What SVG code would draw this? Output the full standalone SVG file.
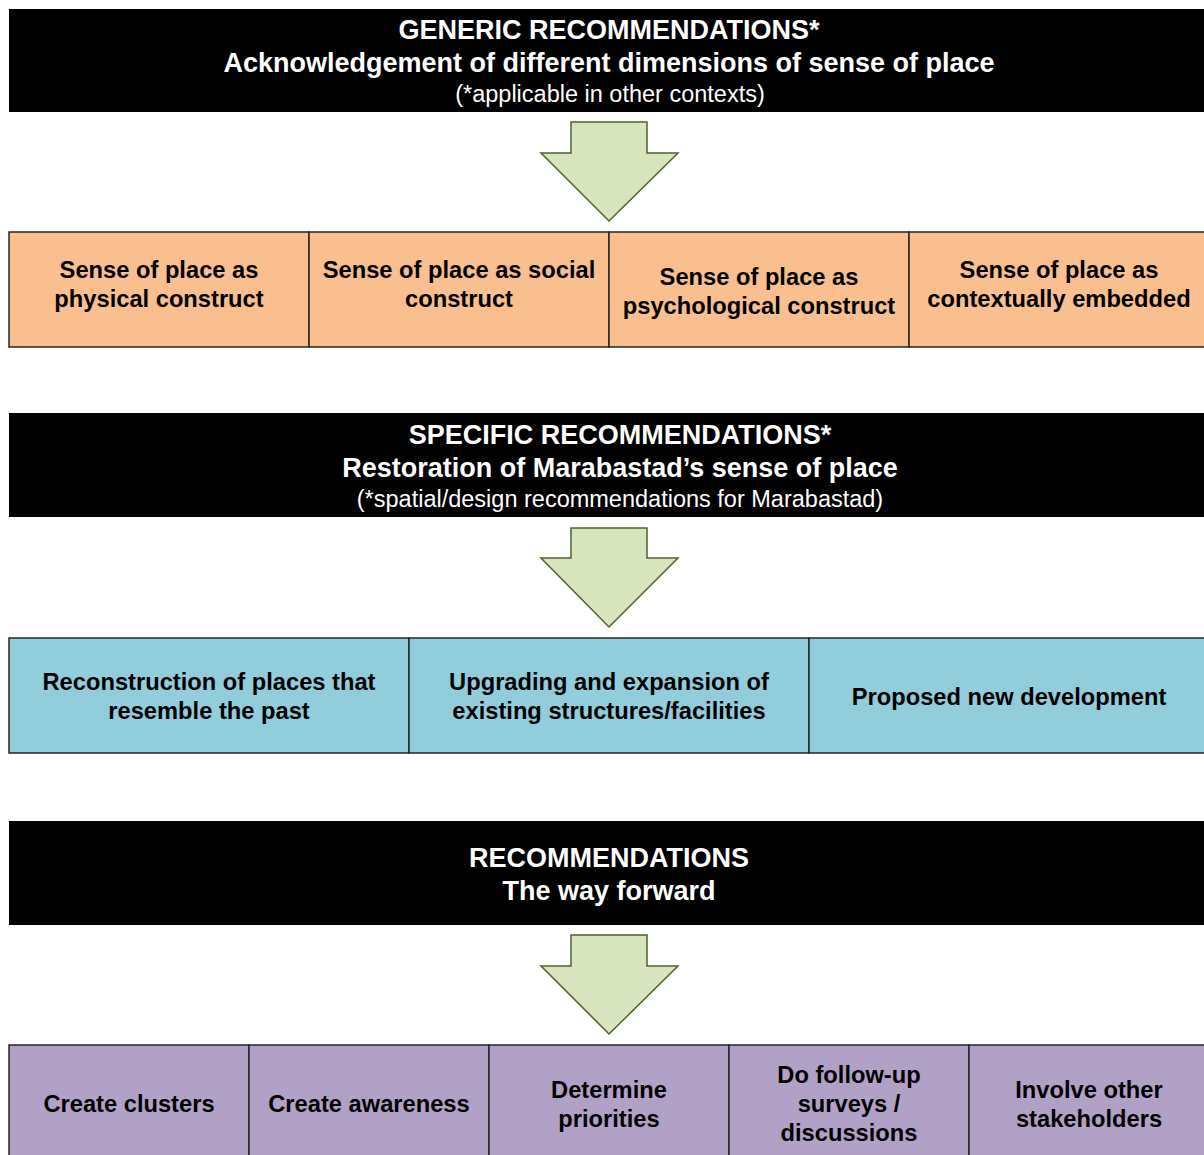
<svg xmlns="http://www.w3.org/2000/svg" width="1204" height="1155" viewBox="0 0 1204 1155">
  <defs>
    <style>
      .band { fill: #000000; }
      .hd { font-family: "Liberation Sans", Arial, sans-serif; fill: #ffffff; text-anchor: middle; }
      .hb { font-weight: bold; font-size: 27px; }
      .hs { font-size: 23.5px; }
      .cell { stroke: #262626; stroke-width: 1.5; }
      .orange { fill: #F9BF8F; }
      .blue { fill: #92CDDC; }
      .purple { fill: #B2A1C7; }
      .lbl { font-family: "Liberation Sans", Arial, sans-serif; font-weight: bold; font-size: 23.7px; fill: #000000; text-anchor: middle; }
      .arrow { fill: #D7E4BD; stroke: #4F6228; stroke-width: 1.5; stroke-linejoin: miter; }
    </style>
  </defs>
  <rect width="1204" height="1155" fill="#ffffff"/>

  <!-- Header: generic recommendations -->
  <g id="header-generic">
    <rect class="band" x="9" y="9" width="1200" height="103"/>
    <text class="hd hb" x="609" y="39">GENERIC RECOMMENDATIONS*</text>
    <text class="hd hb" x="609" y="72">Acknowledgement of different dimensions of sense of place</text>
    <text class="hd hs" x="610" y="102">(*applicable in other contexts)</text>
  </g>

  <!-- Sense-of-place dimensions -->
  <g id="dim-physical">
    <rect class="cell orange" x="9" y="232" width="300" height="115"/>
    <text class="lbl" x="159" y="278">Sense of place as</text>
    <text class="lbl" x="159" y="307">physical construct</text>
  </g>
  <g id="dim-social">
    <rect class="cell orange" x="309" y="232" width="300" height="115"/>
    <text class="lbl" x="459" y="278">Sense of place as social</text>
    <text class="lbl" x="459" y="307">construct</text>
  </g>
  <g id="dim-psychological">
    <rect class="cell orange" x="609" y="232" width="300" height="115"/>
    <text class="lbl" x="759" y="285">Sense of place as</text>
    <text class="lbl" x="759" y="314">psychological construct</text>
  </g>
  <g id="dim-contextual">
    <rect class="cell orange" x="909" y="232" width="300" height="115"/>
    <text class="lbl" x="1059" y="278">Sense of place as</text>
    <text class="lbl" x="1059" y="307">contextually embedded</text>
  </g>

  <!-- Header: specific recommendations -->
  <g id="header-specific">
    <rect class="band" x="9" y="413" width="1200" height="104"/>
    <text class="hd hb" x="620" y="444">SPECIFIC RECOMMENDATIONS*</text>
    <text class="hd hb" x="620" y="477">Restoration of Marabastad’s sense of place</text>
    <text class="hd hs" x="620" y="507">(*spatial/design recommendations for Marabastad)</text>
  </g>

  <g id="spec-reconstruction">
    <rect class="cell blue" x="9" y="638" width="400" height="115"/>
    <text class="lbl" x="209" y="690">Reconstruction of places that</text>
    <text class="lbl" x="209" y="719">resemble the past</text>
  </g>
  <g id="spec-upgrading">
    <rect class="cell blue" x="409" y="638" width="400" height="115"/>
    <text class="lbl" x="609" y="690">Upgrading and expansion of</text>
    <text class="lbl" x="609" y="719">existing structures/facilities</text>
  </g>
  <g id="spec-new">
    <rect class="cell blue" x="809" y="638" width="400" height="115"/>
    <text class="lbl" x="1009" y="705">Proposed new development</text>
  </g>

  <!-- Header: way forward -->
  <g id="header-forward">
    <rect class="band" x="9" y="821" width="1200" height="104"/>
    <text class="hd hb" x="609" y="867">RECOMMENDATIONS</text>
    <text class="hd hb" x="609" y="900">The way forward</text>
  </g>

  <g id="fwd-clusters">
    <rect class="cell purple" x="9" y="1045" width="240" height="116"/>
    <text class="lbl" x="129" y="1112">Create clusters</text>
  </g>
  <g id="fwd-awareness">
    <rect class="cell purple" x="249" y="1045" width="240" height="116"/>
    <text class="lbl" x="369" y="1112">Create awareness</text>
  </g>
  <g id="fwd-priorities">
    <rect class="cell purple" x="489" y="1045" width="240" height="116"/>
    <text class="lbl" x="609" y="1098">Determine</text>
    <text class="lbl" x="609" y="1127">priorities</text>
  </g>
  <g id="fwd-surveys">
    <rect class="cell purple" x="729" y="1045" width="240" height="116"/>
    <text class="lbl" x="849" y="1083">Do follow-up</text>
    <text class="lbl" x="849" y="1112">surveys /</text>
    <text class="lbl" x="849" y="1141">discussions</text>
  </g>
  <g id="fwd-stakeholders">
    <rect class="cell purple" x="969" y="1045" width="240" height="116"/>
    <text class="lbl" x="1089" y="1098">Involve other</text>
    <text class="lbl" x="1089" y="1127">stakeholders</text>
  </g>

  <!-- Block arrows between sections -->
  <g id="connectors">
    <polygon class="arrow" points="571,122 647,122 647,153 678,153 609,221 541,153 571,153"/>
    <polygon class="arrow" points="571,528 647,528 647,558 678,558 609,627 541,558 571,558"/>
    <polygon class="arrow" points="571,935 647,935 647,966 678,966 609,1034 541,966 571,966"/>
  </g>
</svg>
